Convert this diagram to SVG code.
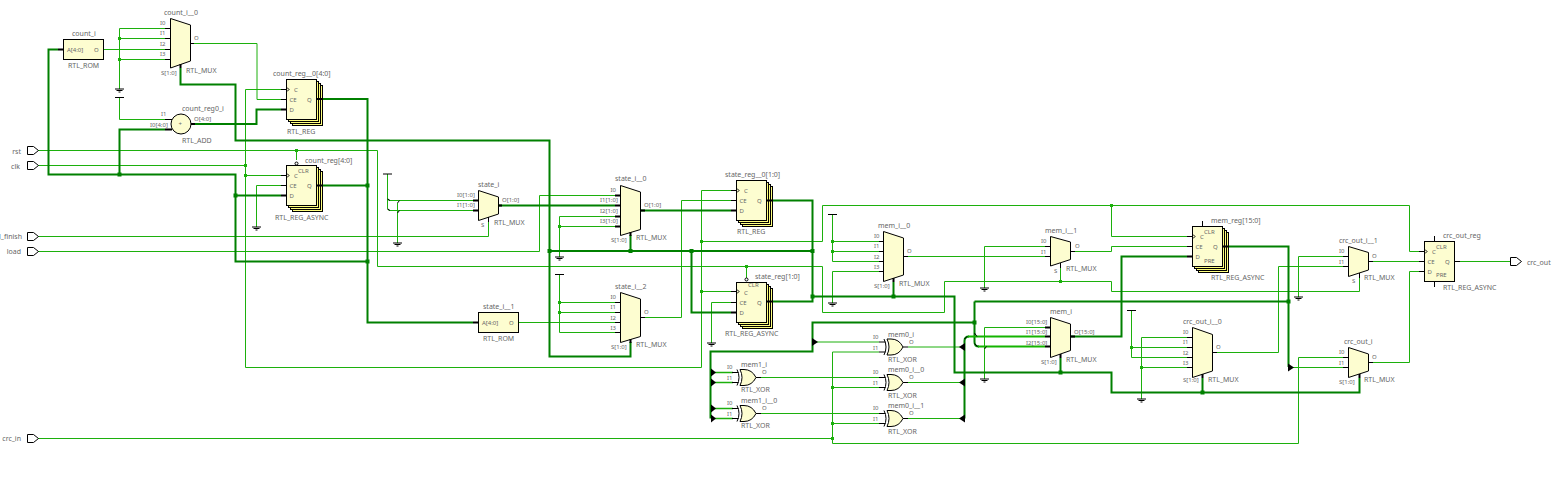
<svg xmlns="http://www.w3.org/2000/svg" width="1553" height="484" viewBox="0 0 1553 484">
<style>
text{font-family:"Noto Sans","Open Sans","DejaVu Sans",sans-serif;fill:#666;font-size:7px}
.l{font-size:6px}
.e{text-anchor:end}
.w{fill:none;stroke:#1cb00c;stroke-width:1}
.m{fill:none;stroke:#1cb00c;stroke-width:1.500}
.k{fill:none;stroke:#008000;stroke-width:2}
.g{fill:none;stroke:#14b400;stroke-width:2}
.dt{fill:#1cb00c}
.dk{fill:#008000}
.n{fill:#fdfdd0;stroke:#000;stroke-width:1}
.y{fill:#ffff80;stroke:#000;stroke-width:1}
.p{fill:none;stroke:#000;stroke-width:1}
.b{fill:none;stroke:#000;stroke-width:2}
.a{fill:#000}
</style>
<defs>
<g id="gnd"><path class="p" d="M-4.500 0H4.500M-3 1.500H3M-1 3H1"/></g>
<g id="vcc"><path class="p" d="M-4.500 0H4.500"/></g>
<g id="xor"><path class="p" d="M0 -8Q4 0 0 8"/><path class="n" d="M3 -8H7Q15 -8 19 0Q15 8 7 8H3Q7 0 3 -8Z"/><path class="p" d="M19 0H24M-5 -5H1.500M-5 5H1.500"/></g>
<g id="port"><path d="M0 -4H6L11 0L6 4H0Z" fill="#fff" stroke="#000" stroke-width="1"/></g>
<rect id="reg" class="n" width="30" height="40"/>
<rect id="regb" class="y" width="30" height="40"/>
</defs>
<g id="connectors">
<path class="w" d="M38 150.500H377.500V266.500H822.500V312.500H944.500V281.500H1111.500V291.500H1359.500V277M296.500 150.500V160M746.500 266.500V278M1060.500 281.500V266"/>
<path class="w" d="M38 165.500H245.500M245.500 89.500V367.500H701.500V190.500H731M245.500 89.500H281M245.500 175.500H281M701.500 291.500H731M701.500 241.500H822.500V205.500H1409.500V251.500H1419M1111.500 205.500V236.500H1187"/>
<path class="w" d="M38 236.500H488.500V219M38 251.500H539.500V195.500H615M38 438.500H832.500M832.500 352V443.500H1298.500V357.500H1343M832.500 352H879M832.500 387.500H879M832.500 423.500H879"/>
<path class="w" d="M103.500 49.500H165M119.500 28.500V89M119.500 28.500H165M119.500 38.500H165M119.500 59.500H165M119.500 97.500V119.500H165M190.500 43.500H257V99.500H281M281 185.500H256.500V227"/>
<path class="w" d="M387.500 174V208Q387.500 210.500 390 210.500H473M387.500 198Q387.500 200.500 390 200.500H473M397.500 203V243M559.500 216.500V257M559.500 216.500H615M559.500 226.500H615M559.500 274.500V332.500H615M559.500 302.500H615M559.500 312.500H615M518.500 322.500H615M640.500 317.500H681.500V200.500H731M731 302.500H711.500V343"/>
<path class="w" d="M832.500 214.500V261.500H879M832.500 241.500H879M832.500 251.500H879M832.500 271.500H879M832.500 271.500V303M903.500 256.500H1045M1045 246.500H984.500V288M1071 251.500H1111.500V246.500H1187M1045 327.500H984.500V379"/>
<path class="w" d="M815 342H879M761 377.500H879M761 413.500H879M908 347H960M908 382.500H960M908 418.500H960"/>
<path class="m" d="M715 372.500H733M715 382.500H733M715 408.500H733M715 418.500H733"/>
<path class="w" d="M1343 256.500H1298.500V297M1343 266.500H1278.500V352.500H1213M1369 261.500H1419M1369 362.500H1409.500V271.500H1419M1292 367.500H1343M1131.500 310.500V357.500H1187M1131.500 347.500H1187M1187 337.500H1141.500V399M1141.500 367.500H1187M1455 261.500H1510"/>
<path class="k" d="M58 49.500H48.500V174.500H235.500V261.500H367.500M119.500 174.500V129.500H165M235.500 195.500H281M180.500 68V84.500H235.500V140.500H549.500V356.500H630.500V342M549.500 251H812.500M630.500 251V235M691.500 251V312.500H731M771 200.500H812.500V301.500H771M812.500 296.500H954.500V372.500H1111.500V392.500H1359.500V378M893.500 296.500V282M1060.500 372.500V358M1202.500 392.500V378M322 99H367.500V322.500H473M322 185.500H367.500M191 124H256.500V109.500H281M499 205.500H615M640.500 210.500H731M1229 246.500H1288.500V367M974.500 301.500H1288.500M974.500 301.500V342Q974.500 346.500 979 346.500M964.500 418.500V341Q964.500 336.500 969 336.500M974.500 322.500H812.500V351.500H710.500V418.500M1071 336.500H1121.500V256.500H1187"/>
<path class="g" d="M968 336.500H1045M978 346.500H1045"/>
<path class="p" d="M387.500 199L390 200.500M387.500 209L390 210.500M397.500 203L399.500 200.500M397.500 213L399.500 210.500M964.500 339L967 336.500M974.500 343.500L977.500 346.500M984.500 349L986.500 346.500M974.500 333L977 336.500"/>
<g class="dt"><rect x="118" y="37" width="3" height="3"/><rect x="118" y="58" width="3" height="3"/><rect x="244" y="164" width="3" height="3"/><rect x="244" y="174" width="3" height="3"/><rect x="295" y="149" width="3" height="3"/><rect x="558" y="225" width="3" height="3"/><rect x="558" y="301" width="3" height="3"/><rect x="558" y="311" width="3" height="3"/><rect x="700" y="240" width="3" height="3"/><rect x="700" y="290" width="3" height="3"/><rect x="745" y="265" width="3" height="3"/><rect x="831" y="240" width="3" height="3"/><rect x="831" y="250" width="3" height="3"/><rect x="1059" y="280" width="3" height="3"/><rect x="1110" y="204" width="3" height="3"/><rect x="831" y="386" width="3" height="3"/><rect x="831" y="422" width="3" height="3"/><rect x="831" y="437" width="3" height="3"/><rect x="1130" y="346" width="3" height="3"/><rect x="1140" y="366" width="3" height="3"/></g>
<g class="dk"><rect x="117.500" y="172.500" width="4" height="4"/><rect x="233.500" y="193.500" width="4" height="4"/><rect x="365.500" y="183.500" width="4" height="4"/><rect x="365.500" y="259.500" width="4" height="4"/><rect x="547.500" y="249" width="4" height="4"/><rect x="628.500" y="249" width="4" height="4"/><rect x="689.500" y="249" width="4" height="4"/><rect x="810.500" y="249" width="4" height="4"/><rect x="810.500" y="294.500" width="4" height="4"/><rect x="891.500" y="294.500" width="4" height="4"/><rect x="972.500" y="320.500" width="4" height="4"/><rect x="1286.500" y="299.500" width="4" height="4"/><rect x="1058.500" y="370.500" width="4" height="4"/><rect x="1200.500" y="390.500" width="4" height="4"/></g>
<path class="a" d="M812 338L818 342L812 346ZM711 368.500L716 372.500L711 376.500ZM711 378.500L716 382.500L711 386.500ZM711 404.500L716 408.500L711 412.500ZM711 414.500L716 418.500L711 422.500ZM1288 363.500L1294 367.500L1288 371.500ZM965 343L959 347L965 351ZM965 378.500L959 382.500L965 386.500ZM965 414.500L959 418.500L965 422.500Z"/>
<use href="#gnd" x="119.500" y="89"/><use href="#vcc" x="119.500" y="97.500"/><use href="#gnd" x="256.500" y="227"/><use href="#vcc" x="387.500" y="174"/><use href="#gnd" x="397.500" y="243"/><use href="#gnd" x="559.500" y="257"/><use href="#vcc" x="559.500" y="274.500"/><use href="#gnd" x="711.500" y="343"/><use href="#vcc" x="832.500" y="214.500"/><use href="#gnd" x="832.500" y="303"/><use href="#gnd" x="984.500" y="288"/><use href="#gnd" x="984.500" y="379"/><use href="#vcc" x="1131.500" y="310.500"/><use href="#gnd" x="1141.500" y="399"/><use href="#gnd" x="1298.500" y="297"/>
</g>
<g id="port_rst"><use href="#port" x="27.500" y="150.500"/><text class="e" x="21" y="153.500">rst</text></g>
<g id="port_clk"><use href="#port" x="27.500" y="165.500"/><text class="e" x="20" y="168.500">clk</text></g>
<g id="port_finish"><use href="#port" x="27.500" y="236.500"/><text class="e" x="22" y="239">l_finish</text></g>
<g id="port_load"><use href="#port" x="27.500" y="251.500"/><text class="e" x="21" y="254">load</text></g>
<g id="port_crc_in"><use href="#port" x="27.500" y="438.500"/><text class="e" x="21" y="441">crc_in</text></g>
<g id="port_crc_out"><use href="#port" x="1510.500" y="261.500"/><text x="1527" y="264.500">crc_out</text></g>
<g id="count_i"><rect class="n" x="63.500" y="39.500" width="40" height="20"/><path class="b" d="M58 49.500H63.500"/><text x="72" y="36">count_i</text><text class="l" x="67" y="52">A[4:0]</text><text class="l" x="94" y="52">O</text><text x="68" y="68">RTL_ROM</text></g>
<g id="count_i__0"><polygon class="n" points="170.500,18.500 190.500,25 190.500,61 170.500,68"/><path class="p" d="M165 28.500H170.500M165 38.500H170.500M165 49.500H170.500M165 59.500H170.500M190.500 43.500H194"/><path class="b" d="M180.500 64V68"/><text x="164" y="15">count_i__0</text><text class="l" x="160" y="25">I0</text><text class="l" x="160" y="35">I1</text><text class="l" x="160" y="46">I2</text><text class="l" x="160" y="56">I3</text><text class="l" x="194" y="40">O</text><text class="l" x="161" y="75">S[1:0]</text><text x="186" y="73">RTL_MUX</text></g>
<g id="count_reg0_i"><circle class="n" cx="181" cy="124" r="10"/><path class="p" d="M165 119.500H172"/><path class="b" d="M165 129.500H172M191 124H195"/><text class="l" x="178.500" y="126">+</text><text x="182" y="111">count_reg0_i</text><text class="l" x="161" y="116">I1</text><text class="l" x="150" y="127">I0[4:0]</text><text class="l" x="194" y="121">O[4:0]</text><text x="182" y="143">RTL_ADD</text></g>
<g id="count_reg__0"><use href="#regb" x="292.500" y="85.500"/><use href="#regb" x="290.500" y="83.500"/><use href="#regb" x="288.500" y="81.500"/><use href="#reg" x="286.500" y="79.500"/><path class="p" d="M281 89.500H286.500M281 99.500H286.500M287 87.500L289 89.500L287 91.500"/><path class="b" d="M281 109.500H286.500M317 99H322"/><text x="273" y="76">count_reg__0[4:0]</text><text class="l" x="294" y="92">C</text><text class="l" x="289.500" y="102">CE</text><text class="l" x="289.500" y="112">D</text><text class="l" x="307" y="102">Q</text><text x="287" y="134">RTL_REG</text></g>
<g id="count_reg"><use href="#regb" x="292.500" y="171.500"/><use href="#regb" x="290.500" y="169.500"/><use href="#regb" x="288.500" y="167.500"/><use href="#reg" x="286.500" y="165.500"/><path class="p" d="M281 175.500H286.500M281 185.500H286.500M287 173.500L289 175.500L287 177.500"/><path class="b" d="M281 195.500H286.500M317 185.500H322"/><circle cx="296.500" cy="163.500" r="1.500" fill="#fff" stroke="#000"/><text x="305" y="163">count_reg[4:0]</text><text class="l" x="298" y="173">CLR</text><text class="l" x="294" y="178">C</text><text class="l" x="289.500" y="188">CE</text><text class="l" x="289.500" y="198">D</text><text class="l" x="307" y="188">Q</text><text x="275" y="220">RTL_REG_ASYNC</text></g>
<g id="state_i"><polygon class="n" points="478.500,190.500 498.500,197 498.500,214 478.500,220.500"/><path class="b" d="M473 200.500H478.500M473 210.500H478.500M498.500 205.500H502"/><path class="p" d="M488.500 217V222"/><text x="478" y="187">state_i</text><text class="l" x="457" y="197">I0[1:0]</text><text class="l" x="457" y="207">I1[1:0]</text><text class="l" x="502" y="202">O[1:0]</text><text class="l" x="481" y="227">S</text><text x="494" y="225">RTL_MUX</text></g>
<g id="state_i__0"><polygon class="n" points="620.500,185.500 640.500,192 640.500,229.500 620.500,235.500"/><path class="b" d="M615 195.500H620.500M615 205.500H620.500M615 216.500H620.500M615 226.500H620.500M640.500 210.500H645M630.500 232V236"/><text x="615" y="181">state_i__0</text><text class="l" x="610.500" y="192">I0</text><text class="l" x="600" y="202">I1[1:0]</text><text class="l" x="600" y="213">I2[1:0]</text><text class="l" x="600" y="223">I3[1:0]</text><text class="l" x="644" y="207">O[1:0]</text><text class="l" x="611" y="241.500">S[1:0]</text><text x="636" y="240">RTL_MUX</text></g>
<g id="state_i__1"><rect class="n" x="478.500" y="312.500" width="40" height="20"/><text x="483" y="309">state_i__1</text><path class="b" d="M473 322.500H478.500"/><text class="l" x="482" y="325">A[4:0]</text><text class="l" x="509" y="325">O</text><text x="483" y="341">RTL_ROM</text></g>
<g id="state_i__2"><polygon class="n" points="620.500,292.500 640.500,299 640.500,336.500 620.500,342.500"/><path class="p" d="M615 302.500H620.500M615 312.500H620.500M615 322.500H620.500M615 332.500H620.500M640.500 317.500H645"/><path class="b" d="M630.500 339V343"/><text x="615" y="289">state_i__2</text><text class="l" x="610.500" y="299">I0</text><text class="l" x="610.500" y="309">I1</text><text class="l" x="610.500" y="320">I2</text><text class="l" x="610.500" y="330">I3</text><text class="l" x="644" y="314">O</text><text class="l" x="611" y="349">S[1:0]</text><text x="636" y="347">RTL_MUX</text></g>
<g id="state_reg__0"><use href="#regb" x="742.500" y="186.500"/><use href="#regb" x="740.500" y="184.500"/><use href="#regb" x="738.500" y="182.500"/><use href="#reg" x="736.500" y="180.500"/><path class="p" d="M731 190.500H736.500M731 200.500H736.500M737 188.500L739 190.500L737 192.500"/><path class="b" d="M731 210.500H736.500M767 200.500H772"/><text x="725" y="176.500">state_reg__0[1:0]</text><text class="l" x="744" y="193">C</text><text class="l" x="739.500" y="203">CE</text><text class="l" x="739.500" y="213">D</text><text class="l" x="757" y="203">Q</text><text x="737" y="234">RTL_REG</text></g>
<g id="state_reg"><use href="#regb" x="742.500" y="288.500"/><use href="#regb" x="740.500" y="286.500"/><use href="#regb" x="738.500" y="284.500"/><use href="#reg" x="736.500" y="282.500"/><path class="p" d="M731 291.500H736.500M731 302.500H736.500M737 289.500L739 291.500L737 293.500"/><path class="b" d="M731 312.500H736.500M767 301.500H772"/><circle cx="746.500" cy="279.500" r="1.500" fill="#fff" stroke="#000"/><text x="755" y="279">state_reg[1:0]</text><text class="l" x="748" y="287">CLR</text><text class="l" x="744" y="295">C</text><text class="l" x="739.500" y="305">CE</text><text class="l" x="739.500" y="315">D</text><text class="l" x="757" y="305">Q</text><text x="725" y="336">RTL_REG_ASYNC</text></g>
<g id="mem_i__0"><polygon class="n" points="883.500,231.500 903.500,238 903.500,275 883.500,281.500"/><path class="p" d="M879 241.500H883.500M879 251.500H883.500M879 261.500H883.500M879 271.500H883.500M903.500 256.500H908"/><path class="b" d="M893.500 278V282"/><text x="878" y="227.500">mem_i__0</text><text class="l" x="874" y="238">I0</text><text class="l" x="874" y="248">I1</text><text class="l" x="874" y="259">I2</text><text class="l" x="874" y="269">I3</text><text class="l" x="907" y="253">O</text><text class="l" x="874" y="288">S[1:0]</text><text x="899" y="286">RTL_MUX</text></g>
<g id="mem_i__1"><polygon class="n" points="1050.500,236.500 1070.500,242 1070.500,259.500 1050.500,266"/><path class="p" d="M1045 246.500H1050.500M1045 256.500H1050.500M1070.500 251.500H1075M1060.500 263V268"/><text x="1045" y="232.500">mem_i__1</text><text class="l" x="1041" y="243">I0</text><text class="l" x="1041" y="254">I1</text><text class="l" x="1075" y="248">O</text><text class="l" x="1054" y="273">S</text><text x="1066" y="271">RTL_MUX</text></g>
<g id="mem_i"><polygon class="n" points="1050.500,317.500 1070.500,324 1070.500,350.500 1050.500,357.500"/><path class="b" d="M1045 327.500H1050.500M1045 336.500H1050.500M1045 346.500H1050.500M1070.500 336.500H1075M1060.500 354V358"/><text x="1050" y="314">mem_i</text><text class="l" x="1026" y="324">I0[15:0]</text><text class="l" x="1026" y="334">I1[15:0]</text><text class="l" x="1026" y="345">I2[15:0]</text><text class="l" x="1074" y="334">O[15:0]</text><text class="l" x="1041" y="364">S[1:0]</text><text x="1066" y="362">RTL_MUX</text></g>
<g id="mem0_i"><use href="#xor" x="884" y="347"/><text x="888" y="337">mem0_i</text><text class="l" x="873" y="339">I0</text><text class="l" x="873" y="350">I1</text><text class="l" x="909" y="344">O</text><text x="888" y="362">RTL_XOR</text></g>
<g id="mem0_i__0"><use href="#xor" x="884" y="382.500"/><text x="888" y="372">mem0_i__0</text><text class="l" x="873" y="374">I0</text><text class="l" x="873" y="385">I1</text><text class="l" x="909" y="379">O</text><text x="888" y="397.500">RTL_XOR</text></g>
<g id="mem0_i__1"><use href="#xor" x="884" y="418.500"/><text x="888" y="408">mem0_i__1</text><text class="l" x="873" y="410">I0</text><text class="l" x="873" y="421">I1</text><text class="l" x="909" y="415">O</text><text x="888" y="433.500">RTL_XOR</text></g>
<g id="mem1_i"><use href="#xor" x="737" y="377.500"/><text x="741" y="367">mem1_i</text><text class="l" x="727" y="369">I0</text><text class="l" x="727" y="379.500">I1</text><text class="l" x="762" y="374">O</text><text x="741" y="392">RTL_XOR</text></g>
<g id="mem1_i__0"><use href="#xor" x="737" y="413.500"/><text x="741" y="403">mem1_i__0</text><text class="l" x="727" y="405">I0</text><text class="l" x="727" y="415.500">I1</text><text class="l" x="762" y="410">O</text><text x="741" y="428">RTL_XOR</text></g>
<g id="mem_reg"><use href="#regb" x="1198.500" y="232.500"/><use href="#regb" x="1196.500" y="230.500"/><use href="#regb" x="1194.500" y="228.500"/><use href="#reg" x="1192.500" y="226.500"/><path class="p" d="M1187 236.500H1192.500M1187 246.500H1192.500M1193 234.500L1195 236.500L1193 238.500M1202.500 221V226.500"/><path class="b" d="M1187 256.500H1192.500M1223 246.500H1229"/><text x="1211" y="222.500">mem_reg[15:0]</text><text class="l" x="1204" y="234">CLR</text><text class="l" x="1200" y="239">C</text><text class="l" x="1195.500" y="249">CE</text><text class="l" x="1195.500" y="259">D</text><text class="l" x="1213" y="249">Q</text><text class="l" x="1204" y="262.500">PRE</text><text x="1211" y="280">RTL_REG_ASYNC</text></g>
<g id="crc_out_i__0"><polygon class="n" points="1192.500,327.500 1212.500,334.500 1212.500,371 1192.500,377.500"/><path class="p" d="M1187 337.500H1192.500M1187 347.500H1192.500M1187 357.500H1192.500M1187 367.500H1192.500M1212.500 352.500H1217"/><path class="b" d="M1202.500 374V378"/><text x="1183" y="324">crc_out_i__0</text><text class="l" x="1183" y="334">I0</text><text class="l" x="1183" y="344">I1</text><text class="l" x="1183" y="355">I2</text><text class="l" x="1183" y="365">I3</text><text class="l" x="1216" y="349">O</text><text class="l" x="1183" y="382">S[1:0]</text><text x="1208" y="382">RTL_MUX</text></g>
<g id="crc_out_i__1"><polygon class="n" points="1348.500,246.500 1368.500,252.500 1368.500,270 1348.500,276.500"/><path class="p" d="M1343 256.500H1348.500M1343 266.500H1348.500M1368.500 261.500H1373M1359.500 273V278"/><text x="1339" y="243">crc_out_i__1</text><text class="l" x="1339" y="253">I0</text><text class="l" x="1339" y="264">I1</text><text class="l" x="1372" y="258">O</text><text class="l" x="1352" y="283">S</text><text x="1364" y="280">RTL_MUX</text></g>
<g id="crc_out_i"><polygon class="n" points="1348.500,347.500 1368.500,354 1368.500,371 1348.500,377.500"/><path class="p" d="M1343 357.500H1348.500M1343 367.500H1348.500M1368.500 362.500H1373"/><path class="b" d="M1359.500 374V378"/><text x="1344" y="344">crc_out_i</text><text class="l" x="1339" y="354">I0</text><text class="l" x="1339" y="365">I1</text><text class="l" x="1372" y="359">O</text><text class="l" x="1339" y="384">S[1:0]</text><text x="1364" y="382">RTL_MUX</text></g>
<g id="crc_out_reg"><use href="#reg" x="1424.500" y="241.500"/><path class="p" d="M1419 251.500H1424.500M1419 261.500H1424.500M1419 271.500H1424.500M1425 249.500L1427 251.500L1425 253.500M1434.500 236V241.500M1434.500 281.500V287M1454.500 261.500H1460"/><text x="1443" y="238">crc_out_reg</text><text class="l" x="1436" y="249">CLR</text><text class="l" x="1432" y="254">C</text><text class="l" x="1427.500" y="264">CE</text><text class="l" x="1427.500" y="274">D</text><text class="l" x="1445" y="264">Q</text><text class="l" x="1436" y="277">PRE</text><text x="1443" y="289.500">RTL_REG_ASYNC</text></g>
</svg>
